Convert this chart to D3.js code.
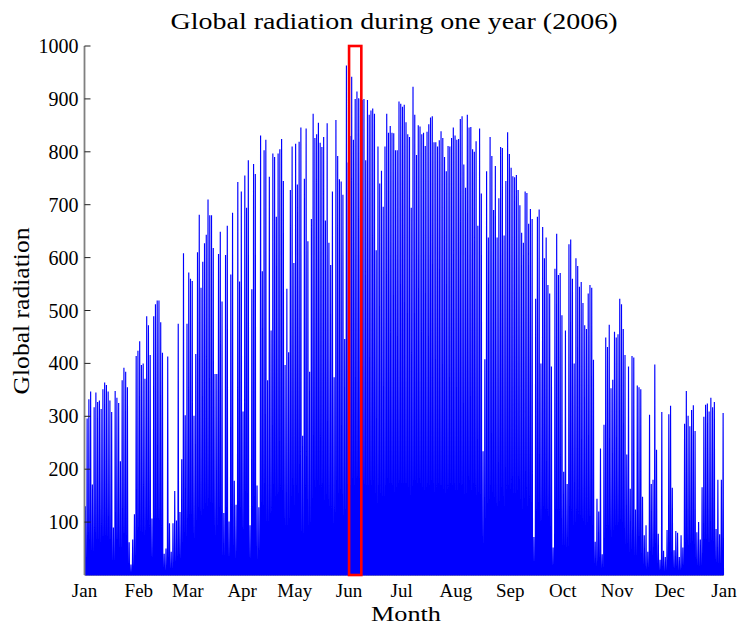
<!DOCTYPE html>
<html><head><meta charset="utf-8">
<script src="https://cdn.jsdelivr.net/npm/d3@7"></script>
<style>body{margin:0;background:#fff}svg{display:block}</style>
</head><body><svg id="c" width="742" height="628"></svg>
<script>
const startDate = "2006-01-01";
const endDate = "2007-01-01";
const dailyPeak = [
130,296,332,347,171,317,345,327,330,314,351,364,359,347,330,308,90,348,335,325,
215,368,392,384,355,62,20,67,115,414,424,442,397,400,371,489,472,416,107,489,
512,519,519,478,420,40,50,413,98,44,98,159,103,475,119,219,608,302,475,572,
560,556,301,418,610,681,543,592,627,643,710,680,680,618,380,380,607,649,517,117,
605,660,101,568,685,178,133,743,555,725,309,755,694,784,94,540,777,758,169,128,
831,574,803,823,368,753,462,797,790,677,797,805,824,745,397,541,421,728,810,590,
815,738,819,846,263,749,844,631,384,673,872,826,833,855,817,809,828,670,854,628,
586,725,374,860,792,748,744,719,446,963,780,830,942,823,900,914,901,900,898,900,
784,898,870,878,882,872,614,810,740,764,696,810,872,836,849,836,835,803,803,895,
891,885,889,856,833,828,694,923,870,794,850,848,833,836,811,838,852,865,867,818,
818,810,822,839,826,790,763,811,810,826,846,831,823,824,862,867,776,732,870,846,
847,805,800,820,660,844,721,234,408,763,638,828,792,690,773,638,712,809,807,642,
745,837,796,770,754,752,756,728,699,647,628,725,722,664,692,673,72,522,677,691,
400,658,599,638,548,532,394,52,579,645,567,571,491,195,462,172,625,634,560,400,
599,584,545,554,514,472,465,532,548,543,407,63,144,120,239,39,284,449,431,473,
353,369,460,449,455,522,512,465,416,228,394,163,414,411,124,358,355,351,148,75,
94,44,303,172,180,398,237,78,29,308,46,34,85,304,320,165,47,83,80,34,
75,52,286,348,301,281,312,321,272,81,100,67,166,299,322,324,309,335,317,327,
87,180,77,180,306
];
const monthLabels = ["Jan","Feb","Mar","Apr","May","Jun","Jul","Aug","Sep","Oct","Nov","Dec","Jan"];
const yTicks = [100,200,300,400,500,600,700,800,900,1000];
const highlightStart = "2006-06-01";
const highlightEnd = "2006-06-08";
const titleText = "Global radiation during one year (2006)";
const xLabelText = "Month";
const yLabelText = "Global radiation";

const svg = d3.select("#c");
const font = "'Liberation Serif','Times New Roman',serif";
const parse = d3.utcParse("%Y-%m-%d");
const t0 = parse(startDate), t1 = parse(endDate);
const x = d3.scaleUtc().domain([t0, t1]).range([84.5, 724]);
const y = d3.scaleLinear().domain([0, 1000]).range([575, 46]);

// bottom axis line (under data)
svg.append("line").attr("x1", x(t0)).attr("x2", x(t1))
  .attr("y1", y(0) + 0.5).attr("y2", y(0) + 0.5)
  .attr("stroke", "#9a9a9a").attr("stroke-width", 1);

// per-day profile: zero at night, daily peak at noon
const pts = [];
dailyPeak.forEach((v, i) => {
  const d0 = d3.utcDay.offset(t0, i);
  pts.push([d3.utcHour.offset(d0, 7), 0]);
  pts.push([d3.utcHour.offset(d0, 12), v]);
  pts.push([d3.utcHour.offset(d0, 17), 0]);
});
const line = d3.line().x(d => x(d[0])).y(d => y(d[1]));
svg.append("path").attr("d", line(pts))
  .attr("fill", "none").attr("stroke", "#0000ff")
  .attr("stroke-width", 1.15).attr("stroke-linejoin", "bevel");

// highlight rectangle
const h0 = parse(highlightStart), h1 = parse(highlightEnd);
svg.append("rect")
  .attr("x", x(h0)).attr("y", y(1000))
  .attr("width", x(h1) - x(h0)).attr("height", y(0) - y(1000))
  .attr("fill", "none").attr("stroke", "#ff0000").attr("stroke-width", 2.6);

// y axis
const yAxis = svg.append("g");
yAxis.append("line").attr("x1", x(t0)).attr("x2", x(t0))
  .attr("y1", y(1000)).attr("y2", y(0))
  .attr("stroke", "#808080").attr("stroke-width", 1.8);
yAxis.selectAll("line.tick").data(yTicks).join("line").attr("class", "tick")
  .attr("x1", x(t0)).attr("x2", x(t0) + 6)
  .attr("y1", d => y(d)).attr("y2", d => y(d))
  .attr("stroke", "#222").attr("stroke-width", 1);
yAxis.selectAll("text").data(yTicks).join("text")
  .attr("x", x(t0) - 6).attr("y", d => y(d)).attr("dy", "0.35em")
  .attr("text-anchor", "end").attr("font-family", font).attr("font-size", 20)
  .text(d => d);

// x axis labels
const months = d3.utcMonth.range(t0, d3.utcDay.offset(t1, 1));
svg.selectAll("text.xt").data(months).join("text").attr("class", "xt")
  .attr("x", d => x(d)).attr("y", 597)
  .attr("text-anchor", "middle").attr("font-family", font).attr("font-size", 19)
  .text((d, i) => monthLabels[i]);

// titles
svg.append("text").attr("x", 394).attr("y", 29).attr("text-anchor", "middle")
  .attr("font-family", font).attr("font-size", 23)
  .attr("textLength", 447).attr("lengthAdjust", "spacingAndGlyphs")
  .text(titleText);
svg.append("text").attr("x", 406).attr("y", 621).attr("text-anchor", "middle")
  .attr("font-family", font).attr("font-size", 21)
  .attr("textLength", 70).attr("lengthAdjust", "spacingAndGlyphs")
  .text(xLabelText);
svg.append("text").attr("transform", "translate(29,311) rotate(-90)")
  .attr("text-anchor", "middle")
  .attr("font-family", font).attr("font-size", 23)
  .attr("textLength", 167).attr("lengthAdjust", "spacingAndGlyphs")
  .text(yLabelText);
</script></body></html>
